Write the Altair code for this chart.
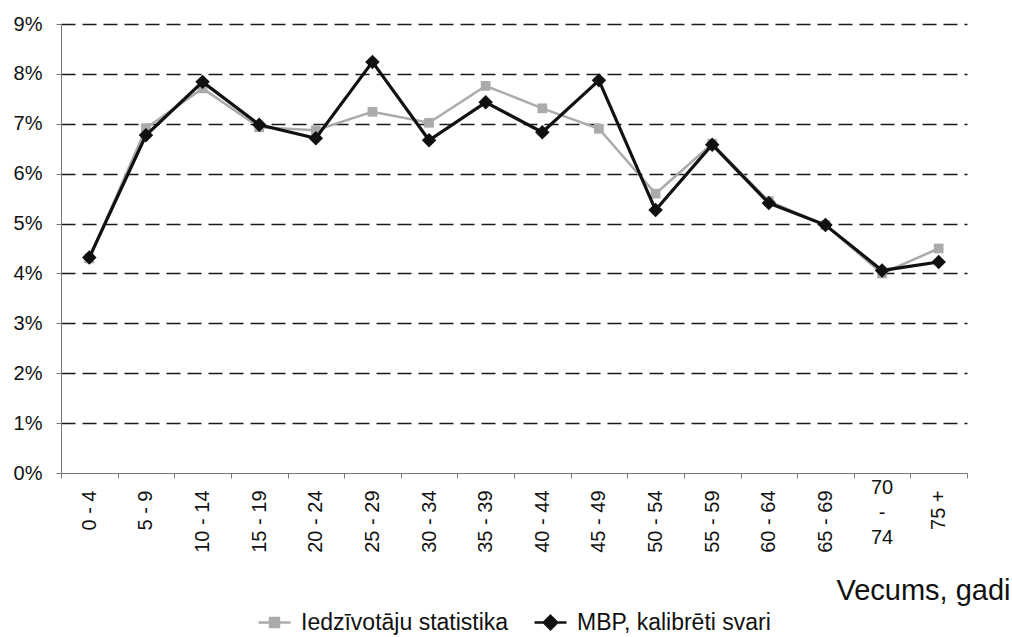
import altair as alt
import pandas as pd

ages = ["0 - 4", "5 - 9", "10 - 14", "15 - 19", "20 - 24", "25 - 29", "30 - 34",
        "35 - 39", "40 - 44", "45 - 49", "50 - 54", "55 - 59", "60 - 64",
        "65 - 69", "70 - 74", "75 +"]
stat_values = [4.30, 6.91, 7.71, 6.93, 6.87, 7.24, 7.02, 7.76, 7.31, 6.90,
               5.60, 6.60, 5.45, 4.97, 4.00, 4.50]
mbp_values = [4.32, 6.77, 7.84, 6.98, 6.71, 8.24, 6.67, 7.43, 6.83, 7.87,
              5.27, 6.58, 5.41, 4.97, 4.06, 4.23]
series_names = ["Iedzīvotāju statistika", "MBP, kalibrēti svari"]
series_colors = ["#ababab", "#111111"]
marker_shapes = ["square", "diamond"]
legend_paths = ["M-1,0H1M-0.28,-0.28H0.28V0.28H-0.28Z",
                "M-1,0H1M0,-0.42L0.42,0L0,0.42L-0.42,0Z"]
y_ticks = [0, 1, 2, 3, 4, 5, 6, 7, 8, 9]
multiline_label = "70 - 74"

rows = []
for s, vals in zip(series_names, [stat_values, mbp_values]):
    for a, v in zip(ages, vals):
        rows.append({"age": a, "value": v, "series": s})
df = pd.DataFrame(rows)

FONT = "Liberation Sans"
W, H = 906, 449

x_enc = alt.X(
    "age:N", sort=ages, bandPosition=0.5,
    scale=alt.Scale(type="band", paddingInner=0, paddingOuter=0),
    axis=alt.Axis(
        title="Vecums, gadi", labelAngle=270,
        labelExpr=f"datum.value == '{multiline_label}' ? '' : datum.value",
        tickBand="extent", tickSize=5, labelPadding=12,
        domainColor="#777777", tickColor="#777777", grid=False,
        labelFont=FONT, labelFontSize=20, labelColor="#111111",
        titleFont=FONT, titleFontSize=29, titleFontWeight="normal",
        titleColor="#111111", titleX=949, titleY=126, titleAlign="right",
        titleBaseline="alphabetic", titleAnchor="end",
    ),
)
y_enc = alt.Y(
    "value:Q", scale=alt.Scale(domain=[0, 9], nice=False, zero=True),
    axis=alt.Axis(
        title=None, values=y_ticks, labelExpr="datum.value + '%'",
        tickSize=5, labelPadding=14, domainColor="#777777", tickColor="#777777",
        gridDash=[14, 7], gridColor="#1a1a1a", gridWidth=1.5,
        gridOpacity=alt.condition("datum.value == 0", alt.value(0), alt.value(1)),
        labelFont=FONT, labelFontSize=20, labelColor="#111111",
    ),
)

legend_x = [196, 472]

base = alt.Chart(df)

def line_layer(i, width):
    name = series_names[i]
    lg = alt.Legend(
        orient="none", legendX=legend_x[i], legendY=581, title=None,
        labelFont=FONT, labelFontSize=23, labelColor="#111111", labelLimit=400,
        symbolType=legend_paths[i], symbolSize=1024, symbolStrokeWidth=2.5,
        symbolFillColor=series_colors[i], symbolStrokeColor=series_colors[i],
        symbolOpacity=1, labelOffset=9, padding=0,
    )
    return base.transform_filter(alt.datum.series == name).mark_line(strokeWidth=width).encode(
        x=x_enc, y=y_enc,
        color=alt.Color("series:N", scale=alt.Scale(domain=[name], range=[series_colors[i]]), legend=lg))

def point_layer(i, size):
    name = series_names[i]
    return base.transform_filter(alt.datum.series == name).mark_point(
        filled=True, opacity=1, size=size, shape=marker_shapes[i], color=series_colors[i]).encode(
        x=x_enc, y=y_enc)

gray_line = line_layer(0, 2.5)
gray_pts = point_layer(0, 95)
black_line = line_layer(1, 3.2)
black_pts = point_layer(1, 210)

label70 = base.transform_filter(
    (alt.datum.age == multiline_label) & (alt.datum.series == series_names[1])
).mark_text(lineBreak=" ", baseline="top", align="center", font=FONT,
            fontSize=20, lineHeight=25, color="#111111").encode(
    x=x_enc, y=alt.value(H + 5), text="age:N")

chart = alt.layer(gray_line, gray_pts, black_line, black_pts, label70).resolve_scale(
    color="independent"
).properties(
    width=W, height=H,
    padding={"left": 61, "top": 24, "right": 45, "bottom": 164},
    autosize=alt.AutoSizeParams(type="none"),
    background="white",
).configure_view(stroke=None)

chart.save("out.html", embed_options={"renderer": "svg", "actions": False})
